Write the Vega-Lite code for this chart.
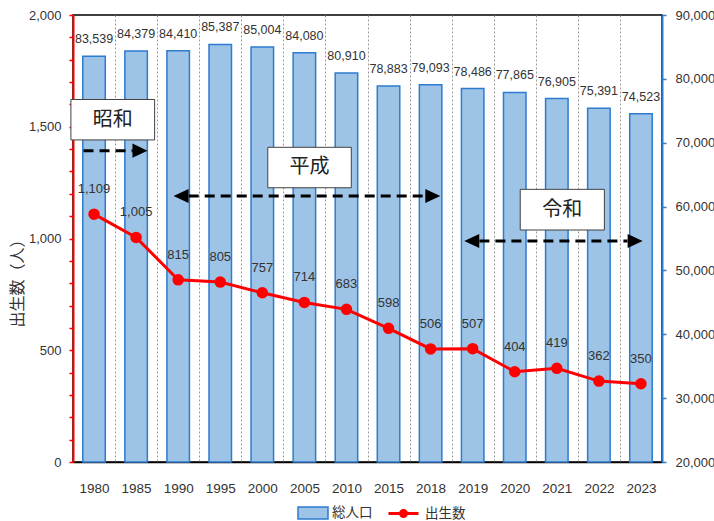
{
  "$schema": "https://vega.github.io/schema/vega-lite/v6.json",
  "width": 589,
  "height": 447,
  "autosize": {"type": "none"},
  "padding": {"left": 73, "top": 15, "right": 52, "bottom": 59},
  "background": "white",
  "config": {
    "view": {"stroke": "#000", "strokeWidth": 1.5},
    "font": "Liberation Sans",
    "axis": {"labelFont": "Liberation Sans"}
  },
  "datasets": {
    "main": [
      {"year": "1980", "pop": 83539, "births": 1109},
      {"year": "1985", "pop": 84379, "births": 1005},
      {"year": "1990", "pop": 84410, "births": 815},
      {"year": "1995", "pop": 85387, "births": 805},
      {"year": "2000", "pop": 85004, "births": 757},
      {"year": "2005", "pop": 84080, "births": 714},
      {"year": "2010", "pop": 80910, "births": 683},
      {"year": "2015", "pop": 78883, "births": 598},
      {"year": "2018", "pop": 79093, "births": 506},
      {"year": "2019", "pop": 78486, "births": 507},
      {"year": "2020", "pop": 77865, "births": 404},
      {"year": "2021", "pop": 76905, "births": 419},
      {"year": "2022", "pop": 75391, "births": 362},
      {"year": "2023", "pop": 74523, "births": 350}
    ],
    "eras": [
      {"era": "昭和", "bx1": -0.05, "bx2": 1.94, "by1": 1441, "by2": 1622, "tx": 0.945, "ty": 1530, "ax1": 0.25, "ax2": 1.42, "ay": 1393},
      {"era": "平成", "bx1": 4.63, "bx2": 6.615, "by1": 1227, "by2": 1408, "tx": 5.62, "ty": 1318, "ax1": 2.75, "ax2": 8.37, "ay": 1190},
      {"era": "令和", "bx1": 10.63, "bx2": 12.63, "by1": 1038, "by2": 1220, "tx": 11.63, "ty": 1129, "ax1": 9.66, "ax2": 13.18, "ay": 989}
    ],
    "heads": [
      {"hx": 1.77, "hy": 1393, "dir": "right"},
      {"hx": 2.39, "hy": 1190, "dir": "left"},
      {"hx": 8.73, "hy": 1190, "dir": "right"},
      {"hx": 9.30, "hy": 989, "dir": "left"},
      {"hx": 13.54, "hy": 989, "dir": "right"}
    ]
  },
  "layer": [
    {
      "data": {"name": "main"},
      "encoding": {
        "x": {
          "field": "year", "type": "ordinal", "sort": null,
          "scale": {"type": "band", "paddingInner": 0, "paddingOuter": 0},
          "axis": {
            "orient": "bottom", "title": null, "labelAngle": 0,
            "domainColor": "#000", "domainWidth": 1.5, "ticks": false,
            "grid": true, "tickBand": "extent", "gridDash": [2, 2], "gridColor": "#999", "gridWidth": 1,
            "labelFontSize": 13.5, "labelColor": "#333", "labelPadding": 19
          }
        },
        "y": {
          "field": "pop", "type": "quantitative",
          "scale": {"domain": [20000, 90000], "zero": false, "nice": false},
          "axis": {
            "orient": "right", "title": null, "grid": false,
            "values": [20000, 30000, 40000, 50000, 60000, 70000, 80000, 90000],
            "labelExpr": "format(datum.value, ',')", "domainColor": "#2E7BCF", "domainWidth": 2,
            "tickColor": "#2E7BCF", "tickSize": 4, "tickWidth": 1.5,
            "labelFontSize": 13, "labelColor": "#333", "labelPadding": 9
          }
        }
      },
      "layer": [
        {
          "mark": {"type": "bar", "width": 22.5, "stroke": "#2E7BCF", "strokeWidth": 1.5},
          "encoding": {
            "y2": {"datum": 20000},
            "fill": {
              "datum": "総人口",
              "scale": {"domain": ["総人口"], "range": ["#9DC3E6"]},
              "legend": {
                "orient": "none", "legendX": 224, "legendY": 482, "direction": "horizontal",
                "title": null, "labelFont": "Noto Sans CJK JP", "labelFontSize": 13.5,
                "labelColor": "#333", "symbolSize": 900, "labelOffset": 3,
                "symbolType": "M-1,-0.4H1V0.4H-1Z", "symbolStrokeColor": "#2E7BCF", "symbolStrokeWidth": 1.5
              }
            }
          }
        },
        {
          "mark": {"type": "text", "dy": -17, "baseline": "middle", "fontSize": 12.5, "color": "#333"},
          "encoding": {"text": {"field": "pop", "type": "quantitative", "format": ","}}
        }
      ]
    },
    {
      "data": {"name": "main"},
      "encoding": {
        "x": {
          "field": "year", "type": "ordinal", "sort": null,
          "scale": {"type": "point", "padding": 0.5},
          "axis": null
        },
        "y": {
          "field": "births", "type": "quantitative",
          "scale": {"domain": [0, 2000], "nice": false},
          "axis": {
            "orient": "left", "grid": false,
            "values": [0, 100, 200, 300, 400, 500, 600, 700, 800, 900, 1000, 1100, 1200, 1300, 1400, 1500, 1600, 1700, 1800, 1900, 2000],
            "labelExpr": "datum.value % 500 === 0 ? format(datum.value, ',') : ''",
            "domainColor": "#FF0000", "domainWidth": 2,
            "tickColor": "#FF0000", "tickSize": 4, "tickWidth": 1.5,
            "labelFontSize": 13, "labelColor": "#333", "labelPadding": 8,
            "title": "出生数（人）", "titleFont": "Noto Sans CJK JP", "titleFontSize": 16,
            "titleFontWeight": "normal", "titleColor": "#333",
            "titleX": -56, "titleY": 264, "titleAngle": -90, "titleAlign": "center", "titleBaseline": "middle"
          }
        }
      },
      "layer": [
        {
          "mark": {"type": "line", "strokeWidth": 3, "point": {"filled": true, "size": 90, "fill": "#FF0000"}},
          "encoding": {
            "stroke": {
              "datum": "出生数",
              "scale": {"domain": ["出生数"], "range": ["#FF0000"]},
              "legend": {
                "orient": "none", "legendX": 314, "legendY": 482, "direction": "horizontal",
                "title": null, "labelFont": "Noto Sans CJK JP", "labelFontSize": 13.5,
                "labelColor": "#333", "symbolSize": 900, "labelOffset": 5,
                "symbolType": "M-1,0H1M-0.2,0A0.2,0.2,0,1,1,0.2,0A0.2,0.2,0,1,1,-0.2,0Z",
                "symbolStrokeWidth": 3, "symbolFillColor": "#FF0000"
              }
            }
          }
        },
        {
          "mark": {"type": "text", "dy": -25, "baseline": "middle", "fontSize": 13, "color": "#333"},
          "encoding": {"text": {"field": "births", "type": "quantitative", "format": ","}}
        }
      ]
    },
    {
      "layer": [
        {
          "data": {"name": "eras"},
          "mark": {"type": "rect", "fill": "white", "stroke": "#404040", "strokeWidth": 1},
          "encoding": {
            "x": {"field": "bx1", "type": "quantitative", "scale": {"domain": [0, 14], "nice": false, "zero": false}, "axis": null},
            "x2": {"field": "bx2"},
            "y": {"field": "by1", "type": "quantitative", "scale": {"domain": [0, 2000], "nice": false}, "axis": null},
            "y2": {"field": "by2"}
          }
        },
        {
          "data": {"name": "eras"},
          "mark": {"type": "text", "font": "Noto Sans CJK JP", "fontSize": 20, "color": "#222", "baseline": "middle"},
          "encoding": {
            "x": {"field": "tx", "type": "quantitative"},
            "y": {"field": "ty", "type": "quantitative"},
            "text": {"field": "era"}
          }
        },
        {
          "data": {"name": "eras"},
          "mark": {"type": "rule", "strokeWidth": 3, "strokeDash": [10, 6], "color": "#000"},
          "encoding": {
            "x": {"field": "ax1", "type": "quantitative"},
            "x2": {"field": "ax2"},
            "y": {"field": "ay", "type": "quantitative"}
          }
        },
        {
          "data": {"name": "heads"},
          "mark": {"type": "point", "filled": true, "color": "#000", "opacity": 1, "size": 900},
          "encoding": {
            "x": {"field": "hx", "type": "quantitative"},
            "y": {"field": "hy", "type": "quantitative"},
            "shape": {
              "field": "dir", "type": "nominal",
              "scale": {"domain": ["right", "left"], "range": ["M0,0L-1,-0.47L-1,0.47Z", "M0,0L1,-0.47L1,0.47Z"]},
              "legend": null
            }
          }
        }
      ]
    }
  ],
  "resolve": {
    "scale": {"x": "independent", "y": "independent"},
    "axis": {"x": "independent", "y": "independent"}
  }
}
